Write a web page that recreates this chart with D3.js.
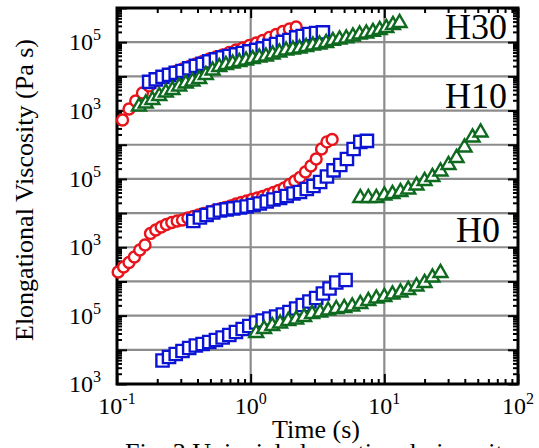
<!DOCTYPE html>
<html><head><meta charset="utf-8">
<script src="https://cdn.jsdelivr.net/npm/d3@7"></script>
<style>
body{margin:0;background:#fff}
svg{display:block}
svg text{font-family:"Liberation Serif","Times New Roman",Tinos,"DejaVu Serif",serif;fill:#000}
</style>
</head><body>
<svg id="chart" width="539" height="448" font-family="Liberation Serif, Times New Roman, DejaVu Serif, serif"></svg>
<script>
// ---------------- data (time in s, viscosity in Pa s, panel-relative) ----------------
const h30RedT = [0.110,0.123,0.138,0.155,0.174,0.195,0.219,0.245,0.275,0.309,0.347,0.389,0.437,0.490,0.550,0.617,0.692,0.776,0.871,0.977,1.10,1.23,1.38,1.55,1.74,1.95,2.19];
const h30RedV = [530,1110,1910,3270,5250,7350,9600,11800,13900,16500,19500,23100,27400,32400,37000,42400,50100,59300,67900,80400,95100,112000,138000,168000,206000,244000,279000];
const h30BlueT = [0.174,0.195,0.219,0.245,0.275,0.309,0.347,0.389,0.437,0.490,0.550,0.617,0.692,0.776,0.871,0.977,1.10,1.23,1.38,1.55,1.74,1.95,2.19,2.45,2.75,3.09,3.47];
const h30BlueV = [6870,8130,9620,11000,12600,14400,17100,20200,23100,27400,31300,35800,39500,43800,48400,53600,59300,65600,77600,88700,102000,116000,138000,152000,174000,186000,193000];
const h30GreenT = [0.146,0.164,0.184,0.207,0.232,0.260,0.292,0.327,0.367,0.412,0.462,0.519,0.582,0.653,0.733,0.822,0.923,1.035,1.16,1.30,1.46,1.64,1.84,2.07,2.32,2.60,2.92,3.27,3.67,4.12,4.62,5.19,5.82,6.53,7.33,8.22,9.23,10.35,11.6,13.0];
const h30GreenV = [1320,1610,2040,2670,3390,4010,5070,6210,7100,8410,11000,14900,18900,21600,23900,26400,29200,32400,35800,38300,43800,50100,57300,61400,65600,72600,80400,85900,95100,109000,120000,129000,147000,168000,180000,200000,228000,261000,319000,366000];

const h10RedT = [0.102,0.112,0.123,0.135,0.148,0.162,0.178,0.195,0.214,0.234,0.257,0.282,0.309,0.339,0.372,0.407,0.447,0.490,0.537,0.589,0.646,0.708,0.776,0.851,0.933,1.02,1.12,1.23,1.35,1.48,1.62,1.78,1.95,2.14,2.34,2.57,2.82,3.09,3.39,3.72,4.07];
const h10RedV = [189,265,359,520,834,1170,2540,3210,3930,4650,5320,5880,6300,7190,7960,8810,9750,10800,11900,13200,14600,16100,18500,20500,22700,25000,27700,30600,35100,40100,45900,54300,68700,87100,110000,160000,239000,383000,752000,1210000,1430000];
const h10BlueT = [0.372,0.417,0.468,0.525,0.589,0.661,0.741,0.832,0.933,1.05,1.17,1.32,1.48,1.66,1.86,2.09,2.34,2.63,2.95,3.31,3.72,4.17,4.68,5.25,5.89,6.61,7.41];
const h10BlueV = [5880,7450,8810,10400,11900,12800,13700,14600,15600,17300,19100,21900,25000,27700,31700,37500,41500,50800,62100,81300,118000,177000,256000,383000,752000,1210000,1290000];
const h10GreenT = [6.61,7.59,8.71,10.0,11.5,13.2,15.1,17.4,20.0,22.9,26.3,30.2,34.7,39.8,45.7,52.5];
const h10GreenV = [27700,27700,27700,32800,36200,41500,49100,64300,87100,114000,165000,256000,410000,832000,1630000,2290000];

const h0BlueT = [0.219,0.245,0.275,0.309,0.347,0.389,0.437,0.490,0.550,0.617,0.692,0.776,0.871,0.977,1.10,1.23,1.38,1.55,1.74,1.95,2.19,2.45,2.75,3.09,3.47,3.89,4.37,5.13];
const h0BlueV = [4880,6170,7550,9230,11300,13400,14800,16900,19400,22900,27200,33200,40600,49800,63000,72100,82400,94400,108000,128000,162000,205000,259000,328000,445000,622000,933000,1100000];
const h0GreenT = [1.10,1.26,1.45,1.66,1.91,2.19,2.51,2.88,3.31,3.80,4.37,5.01,5.75,6.61,7.59,8.71,10.0,11.5,13.2,15.1,17.4,20.0,22.9,26.3];
const h0GreenV = [31100,40600,49800,58900,69700,77100,91200,112000,124000,141000,156000,168000,185000,219000,268000,317000,351000,415000,475000,562000,713000,902000,1310000,1770000];

// panels: names and vertical shift factor used to stack them on one log axis
const panelNames = ["H0", "H10", "H30"];
const panelShift = [1, 1e4, 1e8];

// tick labels
const xTickVals = [0.1, 1, 10, 100];
const xTickExps = ["-1", "0", "1", "2"];
const yTickVals = [1e3, 1e5];
const yTickExps = ["3", "5"];

const xTitle = "Time (s)";
const yTitle = "Elongational Viscosity (Pa s)";
const caption = "Fig. 3 Uniaxial elongational viscosity";

// ---------------- drawing ----------------
const FONT = "Liberation Serif, Times New Roman, DejaVu Serif, serif";
const L = 117, R = 518, T = 8, B = 384;
const svg = d3.select("#chart");
const x = d3.scaleLog().domain([0.1, 100]).range([L, R]);
const y = d3.scaleLog().domain([1e3, 1e14]).range([B, T]);

const gridColor = "#8c8c8c";
const yDecades = d3.range(4, 14).map(e => Math.pow(10, e));
svg.append("g").selectAll("line").data(yDecades).join("line")
  .attr("x1", L).attr("x2", R)
  .attr("y1", d => y(d)).attr("y2", d => y(d))
  .attr("stroke", gridColor).attr("stroke-width", 2.2);
svg.append("g").selectAll("line").data([1, 10]).join("line")
  .attr("y1", T).attr("y2", B)
  .attr("x1", d => x(d)).attr("x2", d => x(d))
  .attr("stroke", gridColor).attr("stroke-width", 2.2);

const yMinor = [], yMajor = [];
for (let e = 3; e <= 13; e++) { yMajor.push(Math.pow(10, e)); for (let k = 2; k <= 9; k++) yMinor.push(k * Math.pow(10, e)); }
yMajor.push(1e14);
const xMinor = [], xMajor = [0.1, 1, 10, 100];
for (let e = -1; e <= 1; e++) for (let k = 2; k <= 9; k++) xMinor.push(k * Math.pow(10, e));

function ticks(axisGen, tx, ty, vals, size) {
  const g = svg.append("g").attr("transform", `translate(${tx},${ty})`)
    .call(axisGen.tickValues(vals).tickSize(size).tickFormat(""));
  g.select(".domain").remove();
  g.selectAll(".tick line").attr("stroke", "#000").attr("stroke-width", 2);
}
ticks(d3.axisRight(y), L, 0, yMinor, 5);
ticks(d3.axisRight(y), L, 0, yMajor, 10);
ticks(d3.axisLeft(y), R, 0, yMinor, 5);
ticks(d3.axisLeft(y), R, 0, yMajor, 10);
ticks(d3.axisTop(x), 0, B, xMinor, 5);
ticks(d3.axisTop(x), 0, B, xMajor, 10);
ticks(d3.axisBottom(x), 0, T, xMinor, 5);
ticks(d3.axisBottom(x), 0, T, xMajor, 10);

svg.append("rect").attr("x", L).attr("y", T).attr("width", R - L).attr("height", B - T)
  .attr("fill", "none").attr("stroke", "#000").attr("stroke-width", 3);

function txt(xp, yp, size, anchor, s) {
  return svg.append("text").attr("x", xp).attr("y", yp).attr("font-family", FONT)
    .attr("font-size", size).attr("text-anchor", anchor).text(s);
}

panelShift.forEach(s => {
  yTickVals.forEach((v, i) => {
    const t = txt(101, y(v * s) + 8, 24, "end", "10");
    t.append("tspan").attr("dy", -10).attr("font-size", 16).text(yTickExps[i]);
  });
});
xTickVals.forEach((v, i) => {
  const t = txt(x(v), 414, 24, "middle", "10");
  t.append("tspan").attr("dy", -10).attr("font-size", 16).text(xTickExps[i]);
});

const panelLabelPos = [{x: 500, v: 1e7, dy: -5}, {x: 507, v: 1e11, dy: -3}, {x: 507, v: 1e13, dy: -3}];
panelNames.forEach((n, i) => {
  txt(panelLabelPos[i].x, y(panelLabelPos[i].v) + panelLabelPos[i].dy, 36, "end", n);
});

txt(316, 438, 26, "middle", xTitle);
txt(0, 0, 26, "middle", yTitle).attr("transform", "translate(33,190) rotate(-90)");
txt(125, 461, 26, "start", caption);

const red = "#e8141c", blue = "#0c14d4", green = "#0e6a1e";
const series = [
  {t: h0BlueT, v: h0BlueV, p: 0, c: blue, s: "sq"},
  {t: h0GreenT, v: h0GreenV, p: 0, c: green, s: "tri"},
  {t: h10RedT, v: h10RedV, p: 1, c: red, s: "ci"},
  {t: h10BlueT, v: h10BlueV, p: 1, c: blue, s: "sq"},
  {t: h10GreenT, v: h10GreenV, p: 1, c: green, s: "tri"},
  {t: h30RedT, v: h30RedV, p: 2, c: red, s: "ci"},
  {t: h30BlueT, v: h30BlueV, p: 2, c: blue, s: "sq"},
  {t: h30GreenT, v: h30GreenV, p: 2, c: green, s: "tri"}
];
const sym = {
  sq: d3.symbol().type(d3.symbolSquare).size(150)(),
  tri: d3.symbol().type(d3.symbolTriangle).size(84)(),
  ci: d3.symbol().type(d3.symbolCircle).size(Math.PI * 30)()
};
series.forEach(se => {
  const pts = se.t.map((t, i) => ({t, v: se.v[i] * panelShift[se.p]}));
  svg.append("g").selectAll("path").data(pts).join("path")
    .attr("d", sym[se.s])
    .attr("transform", d => `translate(${x(d.t)},${y(d.v)})`)
    .attr("fill", "#fff").attr("stroke", se.c).attr("stroke-width", 2.4);
});
</script>
</body></html>
